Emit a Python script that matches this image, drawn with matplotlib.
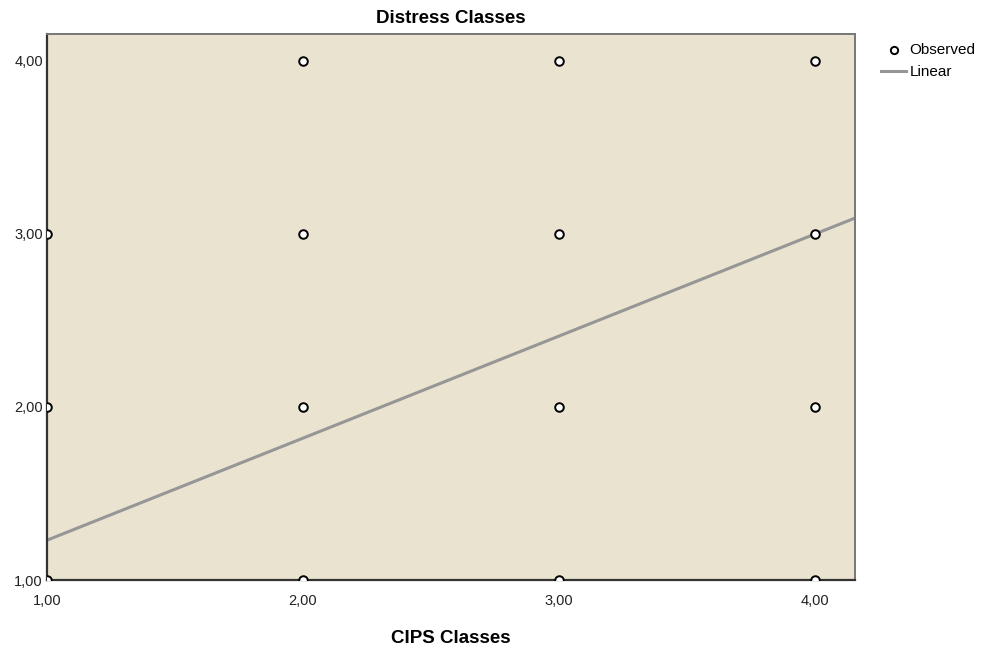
import matplotlib.pyplot as plt
import numpy as np

plt.rcParams['font.family'] = ['Liberation Sans', 'DejaVu Sans']

# observed points (CIPS class, distress class)
cipsClasses = [1, 1, 1, 2, 2, 2, 2, 3, 3, 3, 3, 4, 4, 4, 4]
distressClasses = [1, 2, 3, 1, 2, 3, 4, 1, 2, 3, 4, 1, 2, 3, 4]

# linear fit
intercept = 0.64
slope = 0.59

tickValues = [1, 2, 3, 4]
tickLabels = ['1,00', '2,00', '3,00', '4,00']

fig = plt.figure(figsize=(9.87, 6.51), dpi=100)
ax = fig.add_axes([47 / 987, 1 - 580 / 651, (855 - 47) / 987, (580 - 34) / 651])
ax.set_facecolor('#EAE3CF')

xmin, xmax = 1, 4.156
ymin, ymax = 1, 4.156

xLine = np.array([xmin, xmax])
ax.plot(xLine, intercept + slope * xLine, color='#969696', lw=2.2, label='Linear', zorder=2)
ax.scatter(cipsClasses, distressClasses, s=38, facecolor='white', edgecolor='black',
           linewidth=1.4, label='Observed', zorder=3)

ax.set_xlim(xmin, xmax)
ax.set_ylim(ymin, ymax)
ax.set_xticks(tickValues)
ax.set_xticklabels(tickLabels)
ax.set_yticks(tickValues)
ax.set_yticklabels(tickLabels)
ax.tick_params(length=0, labelsize=10.5, colors='#222222')
ax.tick_params(axis='x', pad=10)
ax.tick_params(axis='y', pad=3)

for side in ['left', 'bottom']:
    ax.spines[side].set_color('#333333')
    ax.spines[side].set_linewidth(1.6)
for side in ['top', 'right']:
    ax.spines[side].set_color('#777777')
    ax.spines[side].set_linewidth(1.4)

ax.set_title('Distress Classes', fontsize=13.5, fontweight='bold', pad=8)
ax.set_xlabel('CIPS Classes', fontsize=13.5, fontweight='bold', labelpad=16)

# legend: Observed first, then Linear
handles, labels = ax.get_legend_handles_labels()
leg = ax.legend(handles[::-1], labels[::-1], loc='upper left', bbox_to_anchor=(1.025, 0.995),
                frameon=False, fontsize=11, handlelength=1.6, handletextpad=0.25,
                labelspacing=0.55, borderaxespad=0, markerscale=0.85)

fig.savefig('out.png', dpi=100)
